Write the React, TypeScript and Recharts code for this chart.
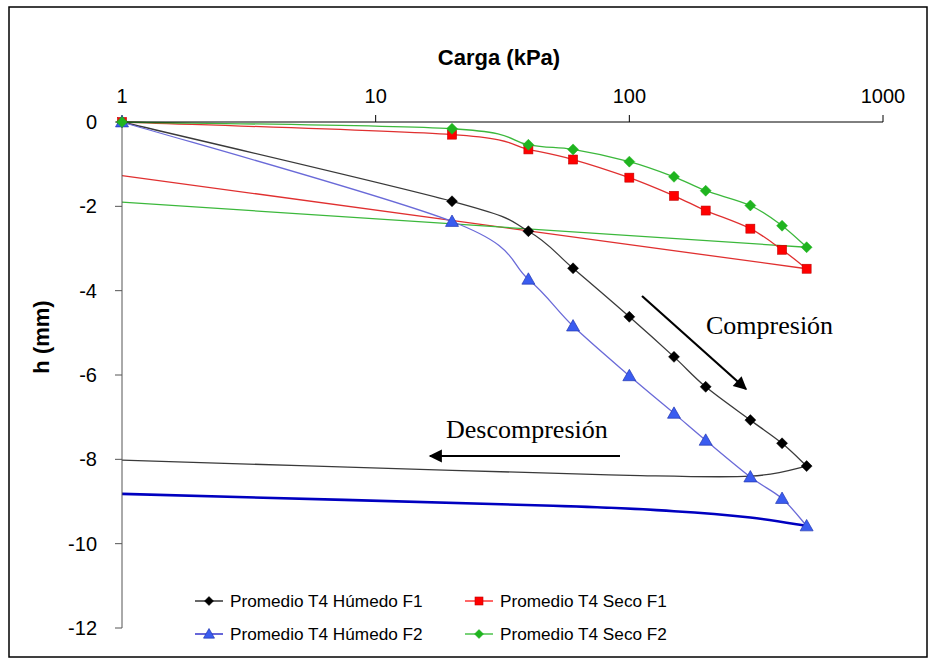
import React from 'react';
import { LineChart, Line, XAxis, YAxis } from 'recharts';

// Load steps (kPa)
const loadKPa = [1, 20, 40, 60, 100, 150, 200, 300, 400, 500];
// Compression (loading) branches, h (mm)
const humedoF1 = [0, -1.88, -2.59, -3.47, -4.62, -5.57, -6.28, -7.07, -7.62, -8.16];
const secoF1 = [0, -0.3, -0.65, -0.89, -1.32, -1.75, -2.1, -2.53, -3.03, -3.48];
const humedoF2 = [0, -2.36, -3.73, -4.84, -6.02, -6.91, -7.55, -8.42, -8.93, -9.58];
const secoF2 = [0, -0.16, -0.54, -0.65, -0.94, -1.3, -1.63, -1.98, -2.46, -2.97];

// Decompression (unloading) branches
const unloadHF1KPa = [500, 300, 100, 20, 1];
const unloadHF1 = [-8.16, -8.4, -8.38, -8.26, -8.02];
const unloadHF2KPa = [500, 300, 150, 50, 1];
const unloadHF2 = [-9.58, -9.38, -9.23, -9.1, -8.82];
const unloadSF1KPa = [500, 1];
const unloadSF1 = [-3.48, -1.27];
const unloadSF2KPa = [500, 1];
const unloadSF2 = [-2.97, -1.9];

const xTicks = [1, 10, 100, 1000];
const yTicks = [-12, -10, -8, -6, -4, -2, 0];

const seriesNames = [
  'Promedio T4 Húmedo F1',
  'Promedio T4 Seco F1',
  'Promedio T4 Húmedo F2',
  'Promedio T4 Seco F2',
];

const mk = (xs: number[], ys: number[]) => xs.map((x, i) => ({ x, y: ys[i] }));

// Excel-like smoothed line (Catmull-Rom style Bezier)
const excelCurve = (context: any) => {
  let pts: number[][] = [];
  return {
    areaStart() {},
    areaEnd() {},
    lineStart() {
      pts = [];
    },
    point(x: number, y: number) {
      pts.push([+x, +y]);
    },
    lineEnd() {
      const n = pts.length;
      if (!n) return;
      context.moveTo(pts[0][0], pts[0][1]);
      if (n === 1) return;
      for (let i = 0; i < n - 1; i++) {
        const p0 = pts[Math.max(0, i - 1)];
        const p1 = pts[i];
        const p2 = pts[i + 1];
        const p3 = pts[Math.min(n - 1, i + 2)];
        const c1x = p1[0] + (p2[0] - p0[0]) / 6;
        const c1y = p1[1] + (p2[1] - p0[1]) / 6;
        const c2x = p2[0] - (p3[0] - p1[0]) / 6;
        const c2y = p2[1] - (p3[1] - p1[1]) / 6;
        context.bezierCurveTo(c1x, c1y, c2x, c2y, p2[0], p2[1]);
      }
    },
  };
};

const COLORS = {
  hf1: '#000000',
  hf1Line: '#3a3a3a',
  sf1: '#ff0000',
  sf1Line: '#e03030',
  hf2: '#3a5cf0',
  hf2Line: '#6a6ad8',
  hf2Unload: '#0000c0',
  sf2: '#1fb41f',
  sf2Line: '#3cb83c',
};

const Diamond = ({ cx, cy, fill, r = 5.5 }: any) => (
  <polygon points={`${cx},${cy - r} ${cx + r},${cy} ${cx},${cy + r} ${cx - r},${cy}`} fill={fill} stroke={fill} strokeWidth={0.5} />
);
const Square = ({ cx, cy, fill, s = 9 }: any) => (
  <rect x={cx - s / 2} y={cy - s / 2} width={s} height={s} fill={fill} stroke="#c00000" strokeWidth={0.6} />
);
const Triangle = ({ cx, cy, fill, r = 6.5 }: any) => (
  <polygon points={`${cx},${cy - r} ${cx + r},${cy + r * 0.75} ${cx - r},${cy + r * 0.75}`} fill={fill} stroke="#2438b0" strokeWidth={0.7} />
);

const dotDiamond = (fill: string) => (p: any) => <Diamond key={`d-${fill}-${p.index}`} cx={p.cx} cy={p.cy} fill={fill} />;
const dotSquare = (fill: string) => (p: any) => <Square key={`s-${p.index}`} cx={p.cx} cy={p.cy} fill={fill} />;
const dotTriangle = (fill: string) => (p: any) => <Triangle key={`t-${p.index}`} cx={p.cx} cy={p.cy} fill={fill} />;

const SANS = '"Liberation Sans", Arial, sans-serif';
const SERIF = '"Liberation Serif", "Times New Roman", serif';

const LegendItem = ({ x, y, color, lineColor, kind, label }: any) => (
  <g>
    <line x1={x} y1={y} x2={x + 28} y2={y} stroke={lineColor} strokeWidth={1.2} />
    {kind === 'diamond' && <Diamond cx={x + 14} cy={y} fill={color} r={4.5} />}
    {kind === 'square' && <Square cx={x + 14} cy={y} fill={color} s={8} />}
    {kind === 'triangle' && <Triangle cx={x + 14} cy={y} fill={color} r={5.5} />}
    <text x={x + 35} y={y} dominantBaseline="central" fontFamily={SANS} fontSize={17.2} fill="#000">
      {label}
    </text>
  </g>
);

export default function App() {
  return (
    <div style={{ position: 'absolute', left: 0, top: 0, width: 936, height: 665, background: '#fff' }}>
      <LineChart width={936} height={665} margin={{ top: 62, right: 53, bottom: 37, left: 62 }}>
        <XAxis
          dataKey="x"
          type="number"
          scale="log"
          domain={[1, 1000]}
          ticks={xTicks}
          interval={0}
          orientation="top"
          height={60}
          tickSize={7}
          tickMargin={12}
          stroke="#000"
          tick={{ fill: '#000', fontSize: 20, fontFamily: SANS }}
        />
        <YAxis
          dataKey="y"
          type="number"
          domain={[-12, 0]}
          ticks={yTicks}
          interval={0}
          width={60}
          tickSize={7}
          tickMargin={18}
          stroke="#555"
          tick={{ fill: '#000', fontSize: 20, fontFamily: SANS }}
        />
        <Line data={mk(unloadHF1KPa, unloadHF1)} dataKey="y" type={excelCurve as any} stroke={COLORS.hf1Line} strokeWidth={1.3} dot={false} activeDot={false} isAnimationActive={false} />
        <Line data={mk(unloadSF1KPa, unloadSF1)} dataKey="y" type={excelCurve as any} stroke={COLORS.sf1Line} strokeWidth={1.3} dot={false} activeDot={false} isAnimationActive={false} />
        <Line data={mk(unloadHF2KPa, unloadHF2)} dataKey="y" type={excelCurve as any} stroke={COLORS.hf2Unload} strokeWidth={2.6} dot={false} activeDot={false} isAnimationActive={false} />
        <Line data={mk(unloadSF2KPa, unloadSF2)} dataKey="y" type={excelCurve as any} stroke={COLORS.sf2Line} strokeWidth={1.3} dot={false} activeDot={false} isAnimationActive={false} />
        <Line data={mk(loadKPa, humedoF1)} dataKey="y" name={seriesNames[0]} type={excelCurve as any} stroke={COLORS.hf1Line} strokeWidth={1.3} dot={dotDiamond(COLORS.hf1)} activeDot={false} isAnimationActive={false} />
        <Line data={mk(loadKPa, secoF1)} dataKey="y" name={seriesNames[1]} type={excelCurve as any} stroke={COLORS.sf1Line} strokeWidth={1.3} dot={dotSquare(COLORS.sf1)} activeDot={false} isAnimationActive={false} />
        <Line data={mk(loadKPa, humedoF2)} dataKey="y" name={seriesNames[2]} type={excelCurve as any} stroke={COLORS.hf2Line} strokeWidth={1.3} dot={dotTriangle(COLORS.hf2)} activeDot={false} isAnimationActive={false} />
        <Line data={mk(loadKPa, secoF2)} dataKey="y" name={seriesNames[3]} type={excelCurve as any} stroke={COLORS.sf2Line} strokeWidth={1.3} dot={dotDiamond(COLORS.sf2)} activeDot={false} isAnimationActive={false} />
      </LineChart>
      <svg width={936} height={665} style={{ position: 'absolute', left: 0, top: 0, pointerEvents: 'none' }}>
        <defs>
          <marker id="ah" viewBox="0 0 10 10" refX="9" refY="5" markerWidth="7" markerHeight="6" orient="auto" markerUnits="strokeWidth">
            <path d="M0,0 L10,5 L0,10 Z" fill="#000" />
          </marker>
        </defs>
        <rect x={9} y={7} width={918} height={650} fill="none" stroke="#000" strokeWidth={1.5} />
        <text x={499} y={65} textAnchor="middle" fontFamily={SANS} fontWeight="bold" fontSize={22} fill="#000">
          Carga (kPa)
        </text>
        <text x={49} y={337} textAnchor="middle" fontFamily={SANS} fontWeight="bold" fontSize={22} fill="#000" transform="rotate(-90 49 337)">
          h (mm)
        </text>
        <line x1={642} y1={296} x2={746} y2={389} stroke="#000" strokeWidth={2.2} markerEnd="url(#ah)" />
        <text x={706} y={334} fontFamily={SERIF} fontSize={26} fill="#000">Compresión</text>
        <line x1={620} y1={456} x2={430} y2={456} stroke="#000" strokeWidth={2.2} markerEnd="url(#ah)" />
        <text x={446} y={438} fontFamily={SERIF} fontSize={26} fill="#000">Descompresión</text>
        <LegendItem x={195} y={601} color={COLORS.hf1} lineColor="#000" kind="diamond" label={seriesNames[0]} />
        <LegendItem x={465} y={601} color={COLORS.sf1} lineColor={COLORS.sf1} kind="square" label={seriesNames[1]} />
        <LegendItem x={195} y={634} color={COLORS.hf2} lineColor={COLORS.hf2Unload} kind="triangle" label={seriesNames[2]} />
        <LegendItem x={465} y={634} color={COLORS.sf2} lineColor={COLORS.sf2} kind="diamond" label={seriesNames[3]} />
      </svg>
    </div>
  );
}
